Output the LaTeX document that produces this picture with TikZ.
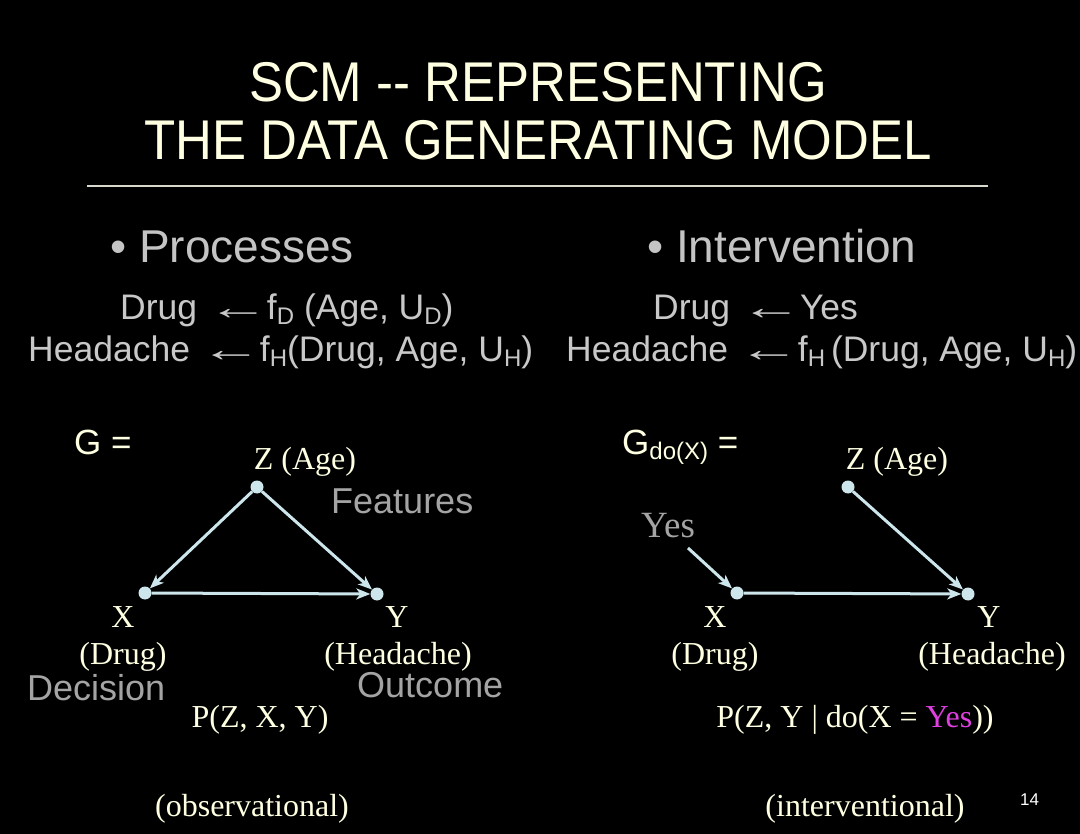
\documentclass[tikz,border=0pt]{standalone}
\usepackage{fontspec}
\setmainfont{Liberation Serif}
\setsansfont{Liberation Sans}
\newfontfamily\titlefont[FakeStretch=0.91]{Liberation Sans}
\usetikzlibrary{arrows.meta}
\definecolor{cream}{HTML}{FFFFE2}
\definecolor{greyA}{HTML}{C4C4C4}
\definecolor{greyB}{HTML}{C8C8C8}
\definecolor{greyC}{HTML}{A4A4A4}
\definecolor{edgecol}{HTML}{CDE6EC}
\definecolor{rulecol}{HTML}{D8D8CC}
\definecolor{mag}{HTML}{E040E0}
\newcommand\lowsub[1]{\raisebox{-0.12em}{\fontsize{24}{24}\selectfont #1}}
\newcommand\larr{ \scalebox{1.75}[1]{←}\hspace{-12pt} }
\tikzset{
  ttl/.style={text=cream, font=\titlefont\fontsize{56}{60}\selectfont, anchor=base, inner sep=0},
  bul/.style={text=greyA, font=\sffamily\fontsize{46}{50}\selectfont, anchor=base west, inner sep=0},
  eqn/.style={text=greyB, font=\sffamily\fontsize{35.5}{40}\selectfont, anchor=base west, inner sep=0},
  gsym/.style={text=cream, font=\sffamily\fontsize{35}{40}\selectfont, anchor=base west, inner sep=0},
  lab/.style={text=cream, font=\rmfamily\fontsize{32}{36}\selectfont, anchor=base, inner sep=0},
  role/.style={text=greyC, font=\sffamily\fontsize{36}{40}\selectfont, anchor=base west, inner sep=0},
  dot/.style={circle, fill=edgecol, minimum size=13pt, inner sep=0},
  cedge/.style={draw=edgecol, line width=3pt, -{Stealth[length=14pt,width=11pt,inset=4pt]}},
}
\begin{document}
\begin{tikzpicture}[x=1pt,y=-1pt]
\fill[black] (0,0) rectangle (1080,834);
\useasboundingbox (0,0) rectangle (1080,834);
% title
\node[ttl] (t1) at (538,102) {SCM -- REPRESENTING};
\node[ttl] (t2) at (538,160) {THE DATA GENERATING MODEL};
\coordinate (r1) at (87,186);
\coordinate (r2) at (988,186);
\draw[rulecol, line width=2pt] (r1) -- (r2);
% bullets
\node[bul] (b1) at (110,263) {\textbullet\ Processes};
\node[bul] (b2) at (647,263) {\textbullet\ Intervention};
% equations
\node[eqn] (e1) at (120,320) {Drug\larr f\lowsub{D} (Age, U\lowsub{D})};
\node[eqn] (e2) at (28,362) {Headache\larr f\lowsub{H}(Drug, Age, U\lowsub{H})};
\node[eqn] (e3) at (653,320) {Drug\larr Yes};
\node[eqn] (e4) at (566,362) {Headache\larr f\lowsub{H}\,(Drug, Age, U\lowsub{H})};
% left graph
\node[gsym] (g1) at (74,455) {G =};
\node[lab] (zl1) at (305,470) {Z (Age)};
\node[dot] (z1) at (257,487) {};
\node[dot] (x1) at (145,593) {};
\node[dot] (y1) at (377,594) {};
\node[role] (feat) at (331,513) {Features};
\node[lab] (xl1) at (123,627) {X};
\node[lab] (xd1) at (123,664) {(Drug)};
\node[lab] (yl1) at (397,627) {Y};
\node[lab] (yd1) at (398,664) {(Headache)};
\node[role] (dec) at (27,700) {Decision};
\node[role] (out) at (357,697) {Outcome};
\node[lab] (p1) at (260,727) {P(Z, X, Y)};
\node[lab] (obs) at (252,816) {(observational)};
\draw[cedge] (z1) -- (x1);
\draw[cedge] (z1) -- (y1);
\draw[cedge] (x1) -- (y1);
% right graph
\node[gsym] (g2) at (622,455) {G\lowsub{do(X)} =};
\node[lab] (zl2) at (897,470) {Z (Age)};
\node[dot] (z2) at (848,487) {};
\node[dot] (x2) at (737,593) {};
\node[dot] (y2) at (968,594) {};
\node[lab, text=greyC, font=\rmfamily\fontsize{37}{40}\selectfont] (yes) at (668,537) {Yes};
\coordinate (ys) at (688,548);
\node[lab] (xl2) at (715,627) {X};
\node[lab] (xd2) at (715,664) {(Drug)};
\node[lab] (yl2) at (989,627) {Y};
\node[lab] (yd2) at (992,664) {(Headache)};
\node[lab] (p2) at (855,727) {P(Z, Y | do(X = \textcolor{mag}{Yes}))};
\node[lab] (intv) at (865,816) {(interventional)};
\draw[cedge] (ys) -- (x2);
\draw[cedge] (z2) -- (y2);
\draw[cedge] (x2) -- (y2);
% page number
\node[text=white, font=\sffamily\fontsize{17}{20}\selectfont, anchor=base west, inner sep=0] (pg) at (1020,805) {14};
\end{tikzpicture}
\end{document}
